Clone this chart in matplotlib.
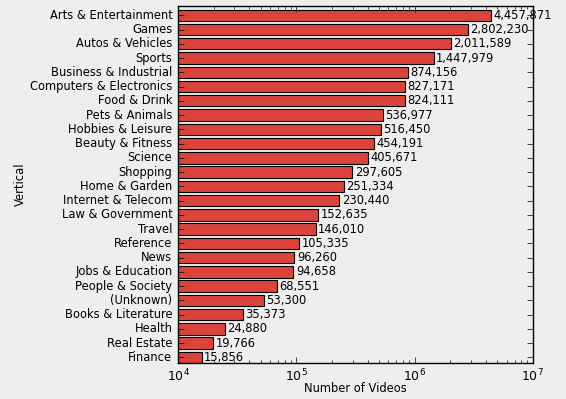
import matplotlib
matplotlib.use("Agg")
import matplotlib.pyplot as plt
import numpy as np

categories = [
    "Arts & Entertainment", "Games", "Autos & Vehicles", "Sports",
    "Business & Industrial", "Computers & Electronics", "Food & Drink",
    "Pets & Animals", "Hobbies & Leisure", "Beauty & Fitness", "Science",
    "Shopping", "Home & Garden", "Internet & Telecom", "Law & Government",
    "Travel", "Reference", "News", "Jobs & Education", "People & Society",
    "(Unknown)", "Books & Literature", "Health", "Real Estate", "Finance",
]
videos = [
    4457871, 2802230, 2011589, 1447979, 874156, 827171, 824111, 536977,
    516450, 454191, 405671, 297605, 251334, 230440, 152635, 146010,
    105335, 96260, 94658, 68551, 53300, 35373, 24880, 19766, 15856,
]

plt.style.use("classic")
bg = "#eeeeee"
fig = plt.figure(figsize=(5.66, 3.99), dpi=100, facecolor=bg)
ax = fig.add_axes([0.3145, 0.09, 0.627, 0.895], facecolor=bg)

ax.set_xscale("log")
y = np.arange(len(categories))
ax.barh(y, videos, height=0.8, color="#db443c", edgecolor="black",
        linewidth=0.8, align="center")
for yi, v in zip(y, videos):
    ax.text(v * 1.05, yi, f"{v:,}", va="center", ha="left", fontsize=8.3)

ax.set_xlim(1e4, 1e7)
ax.set_ylim(len(categories) - 0.6, -0.65)
ax.set_yticks(y)
ax.set_yticklabels(categories, fontsize=8.3)
ax.tick_params(axis="x", labelsize=9, pad=3)
ax.tick_params(axis="y", pad=4)
ax.set_xlabel("Number of Videos", fontsize=8.3, labelpad=-1)
ax.set_ylabel("Vertical", fontsize=8.3, labelpad=2)

fig.savefig("out.png", dpi=100, facecolor=bg)
